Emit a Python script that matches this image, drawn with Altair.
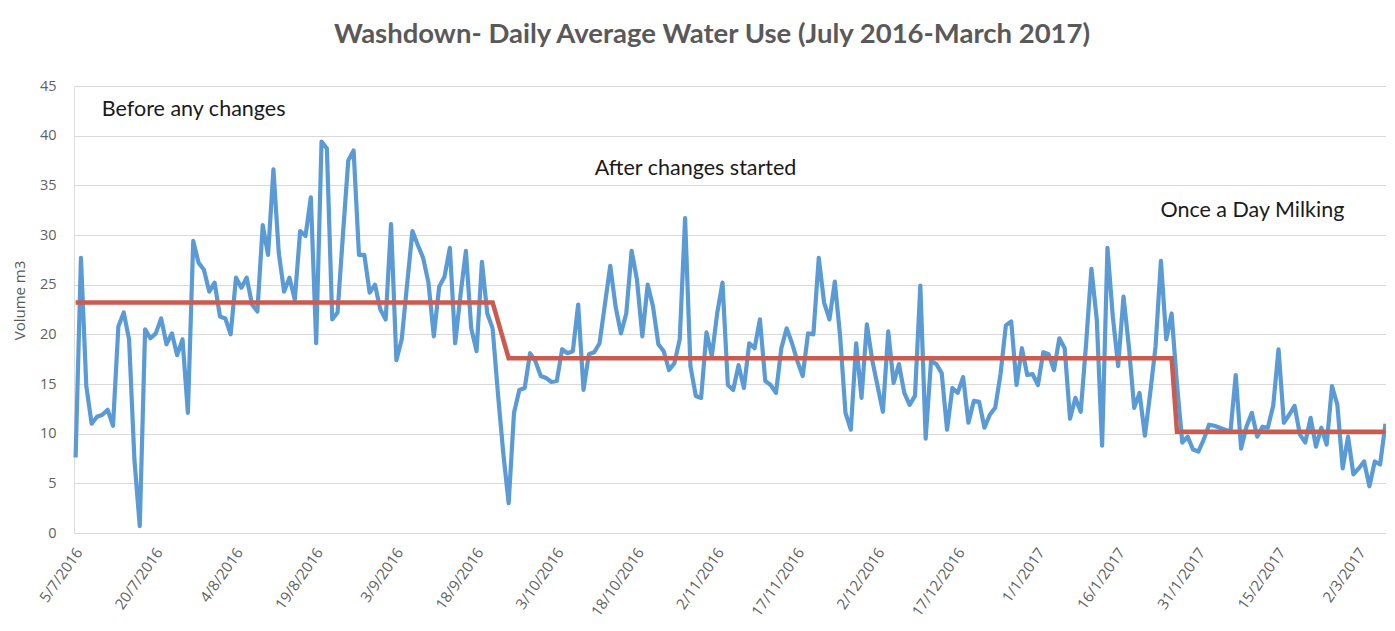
import altair as alt
import pandas as pd

# ---- data ----
start_date = "2016-07-05"
daily_use = [
    7.6, 27.7, 14.8, 11.0, 11.7, 11.9, 12.4, 10.8, 20.8, 22.2,
    19.5, 7.4, 0.7, 20.5, 19.6, 20.1, 21.6, 19.0, 20.1, 17.9,
    19.5, 12.1, 29.4, 27.2, 26.5, 24.3, 25.2, 21.8, 21.6, 20.0,
    25.7, 24.7, 25.7, 23.0, 22.3, 31.0, 28.0, 36.6, 28.2, 24.3,
    25.7, 23.5, 30.4, 29.9, 33.8, 19.1, 39.4, 38.7, 21.5, 22.2,
    30.0, 37.5, 38.5, 28.0, 28.0, 24.2, 25.0, 22.5, 21.5, 31.1,
    17.4, 19.5, 25.0, 30.4, 29.0, 27.7, 25.2, 19.8, 24.8, 25.8,
    28.7, 19.1, 24.0, 28.4, 20.6, 18.3, 27.3, 22.1, 20.6, 14.0,
    8.0, 3.0, 12.1, 14.4, 14.6, 18.1, 17.3, 15.8, 15.6, 15.2,
    15.3, 18.5, 18.1, 18.3, 23.0, 14.4, 18.0, 18.2, 19.1, 23.0,
    26.9, 22.8, 20.1, 22.1, 28.4, 25.5, 19.8, 25.0, 22.8, 19.0,
    18.3, 16.4, 17.1, 19.5, 31.7, 16.8, 13.8, 13.6, 20.2, 17.8,
    22.1, 25.2, 14.9, 14.4, 16.9, 14.6, 19.1, 18.6, 21.5, 15.3,
    14.9, 14.1, 18.6, 20.6, 19.1, 17.3, 15.8, 20.1, 20.0, 27.7,
    23.2, 21.5, 25.3, 19.8, 12.1, 10.4, 19.1, 13.6, 21.0, 17.4,
    14.8, 12.2, 20.3, 15.1, 17.0, 14.1, 12.9, 13.8, 24.9, 9.5,
    17.3, 17.0, 16.1, 10.4, 14.6, 14.1, 15.7, 11.1, 13.3, 13.2,
    10.6, 11.9, 12.6, 16.0, 20.9, 21.3, 14.9, 18.6, 15.9, 16.0,
    14.9, 18.2, 18.0, 16.4, 19.6, 18.6, 11.5, 13.6, 12.2, 19.0,
    26.6, 21.5, 8.8, 28.7, 21.8, 16.8, 23.8, 18.8, 12.6, 14.1,
    9.8, 14.1, 18.8, 27.4, 19.5, 22.1, 15.0, 9.1, 9.7, 8.4,
    8.2, 9.4, 10.9, 10.8, 10.6, 10.4, 10.2, 15.9, 8.5, 10.7,
    12.1, 9.7, 10.7, 10.6, 12.8, 18.5, 11.1, 11.9, 12.8, 9.9,
    9.1, 11.6, 8.7, 10.6, 8.9, 14.8, 12.9, 6.5, 9.7, 5.9,
    6.5, 7.2, 4.7, 7.2, 6.9, 11.0,
]
avg_day = [0, 78, 81, 205, 206, 245]
avg_use = [23.2, 23.2, 17.6, 17.6, 10.2, 10.2]

tick_days = list(range(0, 241, 15))
tick_labels = ["5/7/2016", "20/7/2016", "4/8/2016", "19/8/2016", "3/9/2016",
               "18/9/2016", "3/10/2016", "18/10/2016", "2/11/2016", "17/11/2016",
               "2/12/2016", "17/12/2016", "1/1/2017", "16/1/2017", "31/1/2017",
               "15/2/2017", "2/3/2017"]
y_ticks = [0, 5, 10, 15, 20, 25, 30, 35, 40, 45]

note_text = ["Before any changes", "After changes started", "Once a Day Milking"]
note_day = [4.9, 97.1, 202.9]
note_val = [42.6, 36.6, 32.4]

# ---- tables ----
dates = pd.date_range(start_date, periods=len(daily_use), freq="D")
df = pd.DataFrame({"day": list(range(len(daily_use))), "use": daily_use,
                   "date": dates.strftime("%d/%m/%Y")})
avg_df = pd.DataFrame({"day": avg_day, "use": avg_use})
note_df = pd.DataFrame({"day": note_day, "use": note_val, "text": note_text})

label_expr = "[" + ",".join("'" + s + "'" for s in tick_labels) + "][round(datum.value / 15)]"

x_scale = alt.Scale(domain=[-0.3, 245.1], nice=False, zero=False)
y_scale = alt.Scale(domain=[0, 45], nice=False)

x_enc = alt.X("day:Q", scale=x_scale, title=None,
              axis=alt.Axis(values=tick_days, labelExpr=label_expr, labelAngle=-55,
                            labelAlign="right", labelBaseline="middle", labelPadding=16,
                            labelOffset=3, grid=False, domain=False, ticks=False,
                            labelFont="Open Sans", labelFontSize=15, labelColor="#5f5f5f",
                            labelOverlap=False, labelBound=False, labelFlush=False))
y_enc = alt.Y("use:Q", scale=y_scale, title="Volume m3",
              axis=alt.Axis(values=y_ticks, grid=True, gridColor="#d9d9d9", gridWidth=1,
                            domain=False, ticks=False, labelPadding=18,
                            labelFont="Open Sans", labelFontSize=14.5, labelColor="#5f5f5f",
                            titleFont="Open Sans", titleFontSize=15, titleColor="#595959",
                            titleFontWeight="normal", titleAngle=-90, titleX=-55,
                            titleY=214, titleAlign="center", titleBaseline="middle"))

blue = alt.Chart(df).mark_line(color="#5B9BD5", strokeWidth=4.2, strokeJoin="round").encode(
    x=x_enc, y=y_enc)
red = alt.Chart(avg_df).mark_line(color="#CC5A4E", strokeWidth=4.5).encode(
    x=alt.X("day:Q", scale=x_scale), y=alt.Y("use:Q", scale=y_scale))
notes = alt.Chart(note_df).mark_text(align="left", baseline="middle", font="Lato",
                                     fontSize=21.5, color="#1a1a1a").encode(
    x=alt.X("day:Q", scale=x_scale), y=alt.Y("use:Q", scale=y_scale), text="text:N")

chart = alt.layer(blue, red, notes).properties(
    width=1312, height=447,
    title=alt.TitleParams("Washdown- Daily Average Water Use (July 2016-March 2017)",
                          font="Lato", fontSize=27.5, fontWeight="bold", color="#595959",
                          anchor="middle", offset=30, dx=-18),
    autosize=alt.AutoSizeParams(type="none"),
    padding={"left": 66, "top": 78, "right": 0, "bottom": 88},
).configure_view(stroke=None).configure(background="white")

chart.save("out.html", embed_options={"renderer": "svg", "actions": False})
